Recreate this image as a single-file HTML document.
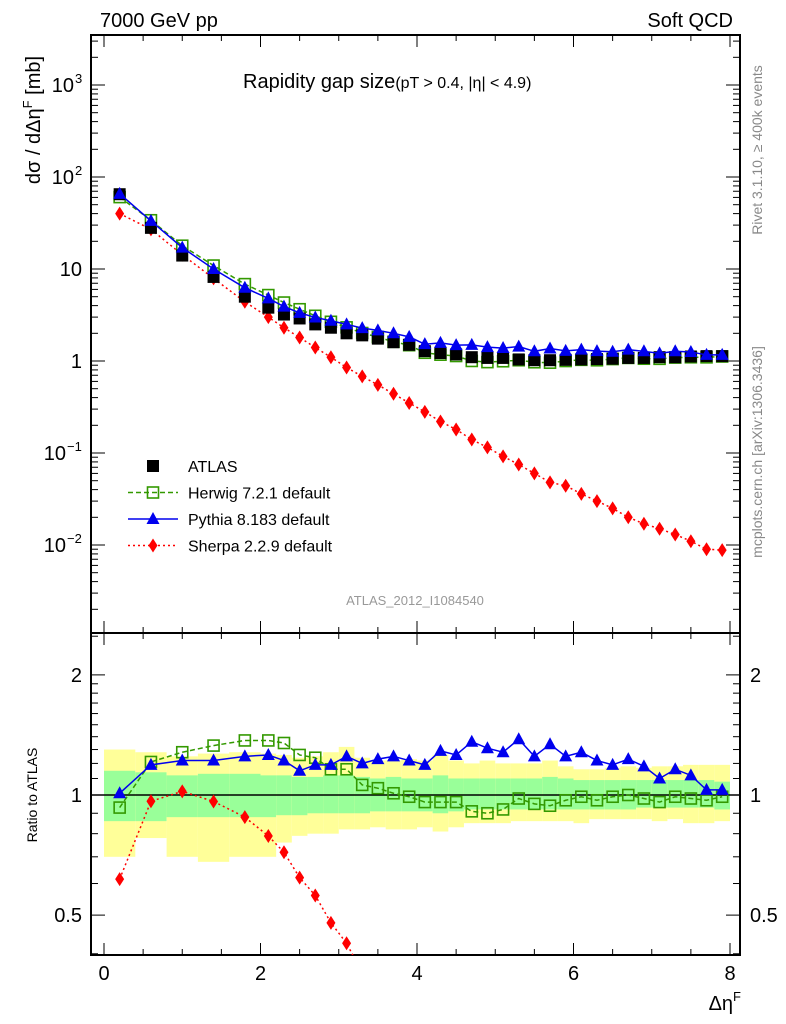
<!DOCTYPE html>
<html><head><meta charset="utf-8"><style>
html,body{margin:0;background:#fff;width:786px;height:1024px;overflow:hidden}
svg{display:block;font-family:"Liberation Sans",sans-serif}
</style></head><body>
<svg id="c" width="786" height="1024" xmlns="http://www.w3.org/2000/svg">
<text x="100" y="27" font-size="20">7000 GeV pp</text>
<text x="733" y="27" font-size="20" text-anchor="end">Soft QCD</text>
<text x="243" y="88" font-size="20">Rapidity gap size<tspan font-size="16">(pT &gt; 0.4, |η| &lt; 4.9)</tspan></text>
<text transform="translate(40,120) rotate(-90)" font-size="20" text-anchor="middle">dσ / dΔη<tspan font-size="13" dy="-8">F</tspan><tspan dy="8"> [mb]</tspan></text>
<text transform="translate(37,795) rotate(-90)" font-size="14" text-anchor="middle">Ratio to ATLAS</text>
<text transform="translate(762,150) rotate(-90)" font-size="14" fill="#888" text-anchor="middle">Rivet 3.1.10, ≥ 400k events</text>
<text transform="translate(762,452) rotate(-90)" font-size="14" fill="#888" text-anchor="middle">mcplots.cern.ch [arXiv:1306.3436]</text>
<text x="415" y="605" font-size="13" fill="#999" text-anchor="middle">ATLAS_2012_I1084540</text>
<text x="741" y="1010" font-size="20" text-anchor="end">Δη<tspan font-size="13" dy="-9">F</tspan></text>
<g id="bands"></g><g id="axes"></g><g id="marks"></g><g id="legend"></g>
</svg>
<script>
const xs=[0.2,0.6,1.0,1.4,1.8,2.1,2.3,2.5,2.7,2.9,3.1,3.3,3.5,3.7,3.9,4.1,4.3,4.5,4.7,4.9,5.1,5.3,5.5,5.7,5.9,6.1,6.3,6.5,6.7,6.9,7.1,7.3,7.5,7.7,7.9];
const binEdges=[0,0.4,0.8,1.2,1.6,2.0,2.2,2.4,2.6,2.8,3.0,3.2,3.4,3.6,3.8,4.0,4.2,4.4,4.6,4.8,5.0,5.2,5.4,5.6,5.8,6.0,6.2,6.4,6.6,6.8,7.0,7.2,7.4,7.6,7.8,8.0];
const atlas=[65,28,14,8.2,5.0,3.8,3.2,2.9,2.5,2.3,2.0,1.9,1.75,1.6,1.5,1.28,1.22,1.18,1.1,1.08,1.08,1.04,1.02,1.02,1.03,1.04,1.05,1.06,1.08,1.08,1.1,1.1,1.12,1.13,1.13];
const herwigRatio=[0.93,1.21,1.28,1.33,1.37,1.37,1.35,1.26,1.24,1.16,1.16,1.06,1.04,1.01,0.99,0.96,0.96,0.96,0.91,0.90,0.92,0.98,0.95,0.94,0.97,0.99,0.97,0.99,1.00,0.98,0.96,0.99,0.98,0.97,0.99];
const pythiaRatio=[1.01,1.19,1.22,1.22,1.25,1.26,1.22,1.15,1.19,1.19,1.25,1.20,1.23,1.25,1.22,1.19,1.29,1.26,1.36,1.31,1.28,1.38,1.25,1.34,1.25,1.28,1.22,1.19,1.23,1.18,1.10,1.16,1.12,1.03,1.03];
const sherpa=[40,27,14.3,7.9,4.4,3.0,2.3,1.8,1.4,1.1,0.85,0.68,0.55,0.44,0.35,0.28,0.22,0.18,0.14,0.115,0.092,0.075,0.06,0.048,0.044,0.036,0.03,0.025,0.02,0.017,0.015,0.013,0.011,0.009,0.0088];
const yellowUp=[1.30,1.28,1.25,1.27,1.28,1.27,1.26,1.24,1.25,1.28,1.32,1.24,1.22,1.22,1.23,1.22,1.26,1.22,1.20,1.22,1.20,1.20,1.20,1.22,1.18,1.16,1.16,1.17,1.18,1.17,1.18,1.18,1.19,1.19,1.19];
const yellowDn=[0.70,0.78,0.70,0.68,0.70,0.70,0.76,0.79,0.80,0.80,0.82,0.82,0.83,0.82,0.82,0.83,0.81,0.83,0.85,0.85,0.85,0.86,0.86,0.86,0.86,0.85,0.87,0.87,0.87,0.87,0.86,0.87,0.85,0.85,0.86];
const greenUp=[1.15,1.14,1.12,1.13,1.13,1.12,1.12,1.11,1.11,1.12,1.12,1.11,1.10,1.11,1.10,1.10,1.12,1.10,1.10,1.10,1.10,1.10,1.10,1.11,1.10,1.09,1.09,1.09,1.09,1.09,1.09,1.09,1.09,1.09,1.08];
const greenDn=[0.86,0.86,0.88,0.88,0.88,0.88,0.89,0.89,0.90,0.90,0.90,0.90,0.91,0.91,0.91,0.91,0.90,0.91,0.92,0.92,0.92,0.92,0.92,0.92,0.92,0.92,0.92,0.92,0.92,0.93,0.93,0.93,0.93,0.93,0.92];
const xTicks=[0,2,4,6,8];

const NS="http://www.w3.org/2000/svg";
const L=91,R=740,T=35,MID=633,B=955;
const X=v=>104+78.25*v;
const Y=v=>361-92*Math.log10(v);
const YR=v=>795-399*Math.log10(v);
function mk(tag,parent,at){const e=document.createElementNS(NS,tag);for(const k in at)e.setAttribute(k,at[k]);document.getElementById(parent).appendChild(e);return e;}

for(let i=0;i<xs.length;i++){
  const x0=X(binEdges[i]),x1=X(binEdges[i+1]);
  const y=mk('rect','bands',{x:x0,y:YR(yellowUp[i]),width:x1-x0,height:YR(yellowDn[i])-YR(yellowUp[i]),fill:'#ffff99'});
  
  
  const g=mk('rect','bands',{x:x0,y:YR(greenUp[i]),width:x1-x0,height:YR(greenDn[i])-YR(greenUp[i]),fill:'#99ff99'});
  
  
}
const f1=mk('rect','axes',{x:L,y:T,width:R-L,height:MID-T,fill:'none',stroke:'#000','stroke-width':2});


const f2=mk('rect','axes',{x:L,y:MID,width:R-L,height:B-MID,fill:'none',stroke:'#000','stroke-width':2});


const one=mk('line','axes',{x1:L,x2:R,y1:YR(1),y2:YR(1),stroke:'#000','stroke-width':1.5});


for(let v=0;v<=8.001;v+=0.5){
  const big=Math.abs(v-Math.round(v/2)*2)<1e-6, len=big?12:6;
  for(const [y0,dir] of [[MID,-1],[T,1],[B,-1],[MID,1]]) mk('line','axes',{x1:X(v),x2:X(v),y1:y0,y2:y0+dir*len,stroke:'#000'});
}
xTicks.forEach(v=>{const t=mk('text','axes',{x:X(v),y:980,'font-size':20,'text-anchor':'middle'});t.textContent=v;
 
 });
for(let d=-3;d<=3;d++){for(let m=1;m<10;m++){const v=m*Math.pow(10,d);const y=Y(v);if(y<T||y>MID)continue;const len=m==1?14:7;
 mk('line','axes',{x1:L,x2:L+len,y1:y,y2:y,stroke:'#000'});mk('line','axes',{x1:R,x2:R-len,y1:y,y2:y,stroke:'#000'});}}
const mainLabs=[[3,'10','3'],[2,'10','2'],[1,'10',''],[0,'1',''],[-1,'10','−1'],[-2,'10','−2']];
mainLabs.forEach(([d,b,e])=>{
 const ew=e.length*8;
 const y=Y(Math.pow(10,d))+7;
 const t=mk('text','axes',{x:82-ew,y:y,'font-size':20,'text-anchor':'end'});t.textContent=b;
 
 
 if(e){const s=mk('text','axes',{x:82-ew+1,y:y-9,'font-size':13});s.textContent=e;
  
  }
});
[0.4,0.5,0.6,0.7,0.8,0.9,1,1.1,1.2,1.3,1.4,1.5,1.6,1.7,1.8,1.9,2,2.5].forEach(v=>{const y=YR(v);if(y<MID||y>B)return;const len=[0.5,1,2].includes(v)?14:7;
 mk('line','axes',{x1:L,x2:L+len,y1:y,y2:y,stroke:'#000'});mk('line','axes',{x1:R,x2:R-len,y1:y,y2:y,stroke:'#000'});});
[[2,'2'],[1,'1'],[0.5,'0.5']].forEach(([v,s])=>{
 const a=mk('text','axes',{x:82,y:YR(v)+7,'font-size':20,'text-anchor':'end'});a.textContent=s;
 
 
 const b=mk('text','axes',{x:750,y:YR(v)+7,'font-size':20});b.textContent=s;
 
 });

function marker(type,x,y,parent){
 let e;
 if(type==='sq')e=mk('rect',parent,{x:x-6,y:y-6,width:12,height:12,fill:'#000'});
 else if(type==='osq')e=mk('rect',parent,{x:x-5.5,y:y-5.5,width:11,height:11,fill:'none',stroke:'#339900','stroke-width':1.6});
 else if(type==='tri')e=mk('polygon',parent,{points:`${x},${y-7} ${x-6.5},${y+5} ${x+6.5},${y+5}`,fill:'#0000ee'});
 else e=mk('polygon',parent,{points:`${x},${y-7} ${x-4.5},${y} ${x},${y+7} ${x+4.5},${y}`,fill:'#ff0000'});
 return e;
}
function series(vals,Yf,type,stroke,dash,name,clipTop,clipBot){
 const pts=[];vals.forEach((v,i)=>pts.push([X(xs[i]),Yf(v)]));
 const p=mk('polyline','marks',{points:pts.map(p=>p.join(',')).join(' '),fill:'none',stroke:stroke,'stroke-width':1.5,'stroke-dasharray':dash,'clip-path':`url(#${clipTop})`});
 
 
 pts.forEach(([x,y])=>{if(y<clipBot[0]||y>clipBot[1])return;const m=marker(type,x,y,'marks');
  
  });
}
const defs=mk('defs','axes',{});
const cp1=document.createElementNS(NS,'clipPath');cp1.id='cm';cp1.innerHTML=`<rect x="${L}" y="${T}" width="${R-L}" height="${MID-T}"/>`;defs.appendChild(cp1);
const cp2=document.createElementNS(NS,'clipPath');cp2.id='cr';cp2.innerHTML=`<rect x="${L}" y="${MID}" width="${R-L}" height="${B-MID}"/>`;defs.appendChild(cp2);
const herwig=atlas.map((a,i)=>a*herwigRatio[i]);
const pythia=atlas.map((a,i)=>a*pythiaRatio[i]);
const sherpaRatio=sherpa.map((s,i)=>s/atlas[i]);
series(sherpa,Y,'dia','#ff0000','2,3','sherpa','cm',[T,MID]);
series(herwig,Y,'osq','#339900','5,3','herwig','cm',[T,MID]);
atlas.forEach((v,i)=>{const m=marker('sq',X(xs[i]),Y(v),'marks');
 
 });
series(pythia,Y,'tri','#0000ee','none','pythia','cm',[T,MID]);
series(sherpaRatio,YR,'dia','#ff0000','2,3','sherpa-ratio','cr',[MID,B-4]);
series(herwigRatio,YR,'osq','#339900','5,3','herwig-ratio','cr',[MID,B]);
series(pythiaRatio,YR,'tri','#0000ee','none','pythia-ratio','cr',[MID,B]);

const leg=[['sq','ATLAS',null,null],['osq','Herwig 7.2.1 default','#339900','5,3'],['tri','Pythia 8.183 default','#0000ee','none'],['dia','Sherpa 2.2.9 default','#ff0000','2,3']];
leg.forEach(([t,lab,c,d],i)=>{const y=466+i*26.5;
 if(c)mk('line','legend',{x1:128,x2:178,y1:y,y2:y,stroke:c,'stroke-width':1.5,'stroke-dasharray':d});
 const m=marker(t,153,y,'legend');
 
 
 const tx=mk('text','legend',{x:188,y:y+6,'font-size':16});tx.textContent=lab;
 
 });
</script>
</body></html>
